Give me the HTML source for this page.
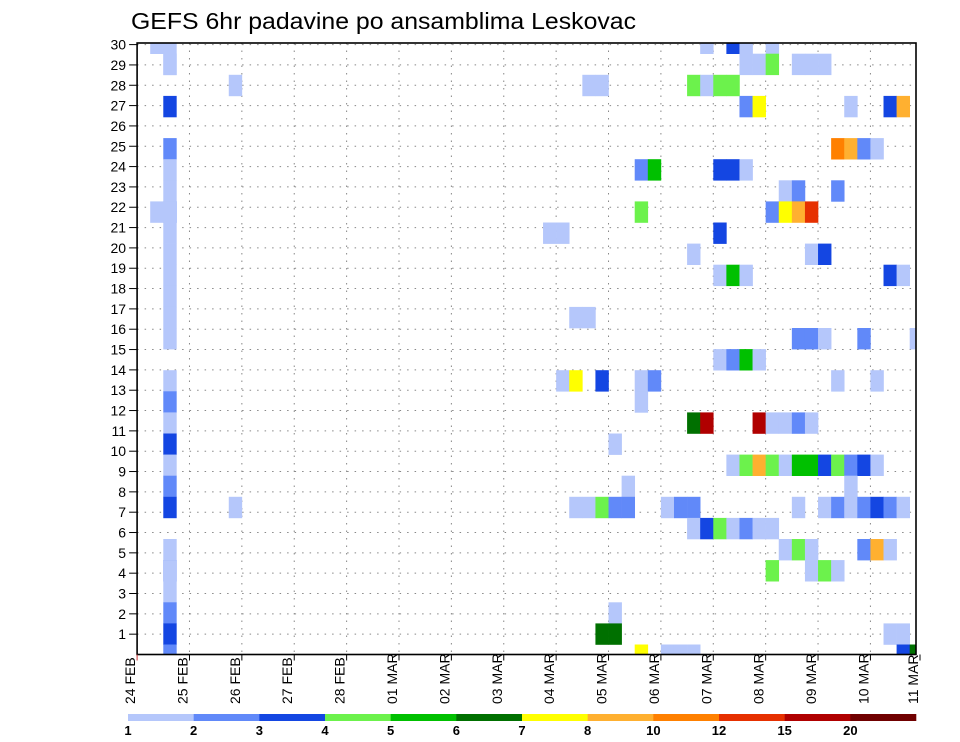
<!DOCTYPE html>
<html><head><meta charset="utf-8"><style>
html,body{margin:0;padding:0;background:#fff;}
svg{display:block;font-family:"Liberation Sans",sans-serif;}
</style></head><body>
<svg id="chart" width="960" height="742" viewBox="0 0 960 742" xmlns="http://www.w3.org/2000/svg">
<text x="131" y="29" font-size="23" textLength="505" lengthAdjust="spacingAndGlyphs" fill="#000">GEFS 6hr padavine po ansamblima Leskovac</text>
<g id="grid"></g>
<g id="cells"></g>
<g id="axes"></g>
<g id="legend"></g>
</svg>
<script>
// categories / data
const dayLabels = ["24 FEB","25 FEB","26 FEB","27 FEB","28 FEB","01 MAR","02 MAR","03 MAR","04 MAR","05 MAR","06 MAR","07 MAR","08 MAR","09 MAR","10 MAR","11 MAR"];
const memberTicks = [1,2,3,4,5,6,7,8,9,10,11,12,13,14,15,16,17,18,19,20,21,22,23,24,25,26,27,28,29,30];
const legendLabels = ["1","2","3","4","5","6","7","8","10","12","15","20"];
const classColors = ["#b5c7fb","#6189f9","#1446e2","#6cf24c","#00c000","#007000","#ffff00","#ffb030","#ff8000","#e63000","#b00000","#700000"];
// each cell: 6h step index, ensemble member index, precipitation class (1..12)
const cellStep = [
1,2,2,2,2,2,2,2,2,2,2,2,2,2,2,2,2,2,2,2,2,2,2,2,2,2,2,1,2,2,2,2,2,2,2,7,7,
43,45,46,48, 46,47,48,50,51,52, 34,35,42,43,44,45, 46,47,54,57,58, 53,54,55,56, 38,39,44,45,46,
49,50,53, 38,48,49,50,51, 31,32,44, 42,51,52, 44,45,46,57,58, 33,34, 50,51,52,55,59,
44,45,46,47, 32,33,35,38,39,53,56, 38, 42,43,47,48,49,50,51, 36,
45,46,47,48,49,50,51,52,53,54,55,56, 37,54,
33,34,35,36,37,40,41,42,50,52,53,54,55,56,57,58,
42,43,44,45,46,47,48, 49,50,51,55,56,57, 48,51,52,53, 36, 35,36,57,58, 38,40,41,42,58,59];
const cellMember = [
29,29,28,26,24,23,22,20,19,18,17,16,15,13,12,11,10,9,8,7,5,4,3,2,1,0,28,21,21,21,21,21,21,21,4,27,7,
29,29,29,29, 28,28,28,28,28,28, 27,27,27,27,27,27, 26,26,26,26,26, 24,24,24,24, 23,23,23,23,23,
22,22,22, 21,21,21,21,21, 20,20,20, 19,19,19, 18,18,18,18,18, 16,16, 15,15,15,15,15,
14,14,14,14, 13,13,13,13,13,13,13, 12, 11,11,11,11,11,11,11, 10,
9,9,9,9,9,9,9,9,9,9,9,9, 8,8,
7,7,7,7,7,7,7,7,7,7,7,7,7,7,7,7,
6,6,6,6,6,6,6, 5,5,5,5,5,5, 4,4,4,4, 2, 1,1,1,1, 0,0,0,0,0,0];
const cellClass = [
1,1,1,3,2,1,1,1,1,1,1,1,1,1,2,1,3,1,2,3,1,2,1,2,3,2,1,1,1,1,1,1,1,1,1,1,1,
1,3,1,1, 1,1,4,1,1,1, 1,1,4,1,4,4, 2,7,1,3,8, 9,8,2,1, 2,5,3,3,1,
1,2,2, 4,2,7,8,10, 1,1,3, 1,1,3, 1,5,1,3,1, 1,1, 2,2,1,2,1,
1,2,5,1, 1,7,3,1,2,1,1, 1, 6,11,11,1,1,2,1, 1,
1,4,8,4,1,5,5,3,4,2,3,1, 1,1,
1,1,4,2,2,1,2,2,1,1,2,1,2,3,2,1,
1,3,4,1,2,1,1, 1,4,1,2,8,1, 4,1,4,1, 1, 6,6,1,1, 7,1,1,1,3,6];

const NS="http://www.w3.org/2000/svg";
const L=137.1, R=916, T=43, B=654.5;
const stepW=13.095;
function xStep(s){return L+s*stepW;}
function xDay(d){return L+d*4*stepW;}
function yTick(k){return B-k*20.33;}
const memberH=21.1, memberBase=644.5;
function yMemberTop(m){return memberBase-m*memberH;}
function mk(tag,attrs,parent){const e=document.createElementNS(NS,tag);for(const k in attrs)e.setAttribute(k,attrs[k]);parent.appendChild(e);return e;}

const svg=document.getElementById('chart');
const defs=mk('defs',{},svg);
const cp=mk('clipPath',{id:'plotclip'},defs);
mk('rect',{x:L,y:T,width:R-L,height:B-T},cp);

const grid=document.getElementById('grid');
memberTicks.forEach(k=>{
  const g=mk('line',{x1:L,x2:R,y1:yTick(k),y2:yTick(k),stroke:'#888','stroke-width':1,'stroke-dasharray':'1.5 6'},grid);
  
  
});
dayLabels.forEach((d,i)=>{
  if(i===0)return;
  const x=xDay(i); if(x>R)return;
  const g=mk('line',{x1:x,x2:x,y1:T,y2:B,stroke:'#888','stroke-width':1,'stroke-dasharray':'1.5 6'},grid);
  
  
});

const cells=document.getElementById('cells');
cells.setAttribute('clip-path','url(#plotclip)');
for(let i=0;i<cellStep.length;i++){
  const r=mk('rect',{x:xStep(cellStep[i]),y:yMemberTop(cellMember[i]),width:stepW+0.3,height:memberH+0.3,fill:classColors[cellClass[i]-1]},cells);
  
  
}

const axes=document.getElementById('axes');
const frame=mk('rect',{x:L,y:T,width:R-L,height:B-T,fill:'none',stroke:'#000','stroke-width':1.6},axes);


memberTicks.forEach(k=>{
  const y=yTick(k);
  mk('line',{x1:L-8,x2:L,y1:y,y2:y,stroke:'#000','stroke-width':1},axes);
  const t=mk('text',{x:L-11,y:y+5,'font-size':14,'text-anchor':'end',fill:'#000'},axes);
  t.textContent=k;
  
  
});
dayLabels.forEach((d,i)=>{
  const x=Math.min(xDay(i),R+4);
  mk('line',{x1:x,x2:x,y1:B,y2:B+6,stroke:i===0?'#c33':'#000','stroke-width':1},axes);
  const t=mk('text',{x:0,y:0,'font-size':14,fill:'#000',transform:`translate(${x-2},704) rotate(-90)`},axes);
  t.textContent=d;
  
  
});

const legend=document.getElementById('legend');
const lx0=128, lx1=916, segW=(lx1-lx0)/classColors.length;
classColors.forEach((c,i)=>{
  const r=mk('rect',{x:lx0+i*segW,y:714,width:segW+0.3,height:7,fill:c},legend);
  
  
});
legendLabels.forEach((s,i)=>{
  const t=mk('text',{x:lx0+i*segW,y:735,'font-size':13,'font-weight':'bold','text-anchor':'middle',fill:'#000'},legend);
  t.textContent=s;
  
  
});
</script>
</body></html>
